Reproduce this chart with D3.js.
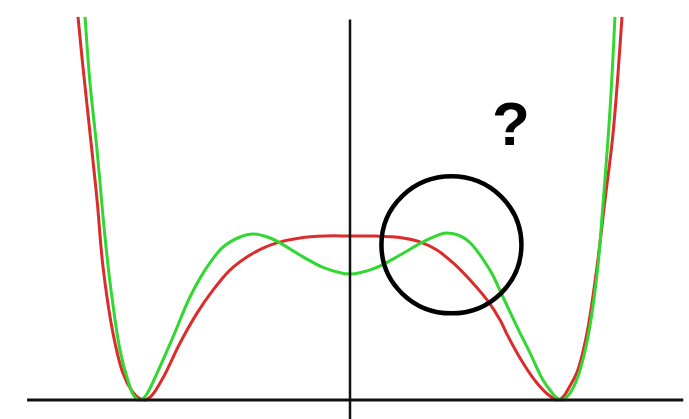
<!DOCTYPE html>
<html>
<head>
<meta charset="utf-8">
<script src="https://cdn.jsdelivr.net/npm/d3@7"></script>
<style>
  html, body { margin: 0; padding: 0; background: #fff; }
  svg { display: block; }
</style>
</head>
<body>
<main></main>
<script>
const svgWidth = 689,
  svgHeight = 419;

// curves: x position, height above the baseline
const redX = [-1.314, -1.290, -1.256, -1.222, -1.193, -1.145, -1.097, -1.058, -1.024, -0.990,
  -0.957, -0.903, -0.821, -0.739, -0.662, -0.580, -0.498, -0.420, -0.353, -0.242, -0.121, 0,
  0.121, 0.256, 0.338, 0.420, 0.498, 0.580, 0.662, 0.725, 0.758, 0.836, 0.903, 0.966, 1.0,
  1.029, 1.060, 1.097, 1.145, 1.193, 1.232, 1.271, 1.314];
const redY = [1.168, 1.015, 0.814, 0.610, 0.405, 0.204, 0.082, 0.032, 0.008, 0.0,
  0.014, 0.068, 0.174, 0.265, 0.335, 0.396, 0.436, 0.463, 0.479, 0.494, 0.500, 0.500,
  0.500, 0.494, 0.482, 0.457, 0.418, 0.366, 0.305, 0.244, 0.201, 0.113, 0.052, 0.012, 0.0,
  0.009, 0.040, 0.085, 0.204, 0.405, 0.610, 0.814, 1.168];

const greenX = [-1.280, -1.256, -1.222, -1.193, -1.159, -1.111, -1.072, -1.043, -1.014,
  -0.986, -0.932, -0.855, -0.773, -0.691, -0.614, -0.531, -0.469, -0.386, -0.338, -0.242, -0.121, 0,
  0.121, 0.242, 0.372, 0.469, 0.565, 0.676, 0.739, 0.807, 0.870, 0.932, 0.976, 1.0, 1.024,
  1.048, 1.072, 1.097, 1.145, 1.193, 1.222, 1.256, 1.280];
const greenY = [1.168, 0.966, 0.762, 0.558, 0.357, 0.152, 0.058, 0.012, 0.0,
  0.014, 0.082, 0.192, 0.314, 0.405, 0.466, 0.497, 0.506, 0.494, 0.479, 0.442, 0.402, 0.384,
  0.402, 0.442, 0.488, 0.509, 0.488, 0.396, 0.314, 0.223, 0.143, 0.061, 0.022, 0.006, 0.0,
  0.010, 0.030, 0.064, 0.177, 0.381, 0.595, 0.884, 1.168];

const axisXExtent = [-1.56, 1.61],
  axisYExtent = [-0.06, 1.16];

const circleCenter = [0.49, 0.473],
  questionPos = [0.778, 0.783];

const xScale = d3.scaleLinear().domain([-1.6, 1.6]).range([18.8, 681.2]),
  yScale = d3.scaleLinear().domain([0, 1.2]).range([400, 6.4]);

const svgContainer = d3
  .select("main")
  .append("svg")
  .attr("width", svgWidth)
  .attr("height", svgHeight);

const line = d3.line()
  .x(d => xScale(d[0]))
  .y(d => yScale(d[1]))
  .curve(d3.curveCatmullRom.alpha(0.5));

svgContainer.append("path")
  .datum(d3.zip(redX, redY))
  .attr("d", line)
  .attr("fill", "none")
  .attr("stroke", "#dc2b2b")
  .attr("stroke-width", 3);

svgContainer.append("path")
  .datum(d3.zip(greenX, greenY))
  .attr("d", line)
  .attr("fill", "none")
  .attr("stroke", "#30d830")
  .attr("stroke-width", 3);

// axes, plain lines without ticks
svgContainer.append("line")
  .attr("x1", xScale(axisXExtent[0]))
  .attr("x2", xScale(axisXExtent[1]))
  .attr("y1", yScale(0))
  .attr("y2", yScale(0))
  .attr("stroke", "#111")
  .attr("stroke-width", 3);

svgContainer.append("line")
  .attr("x1", xScale(0))
  .attr("x2", xScale(0))
  .attr("y1", yScale(axisYExtent[0]))
  .attr("y2", yScale(axisYExtent[1]))
  .attr("stroke", "#111")
  .attr("stroke-width", 2.5);

svgContainer.append("ellipse")
  .attr("cx", xScale(circleCenter[0]))
  .attr("cy", yScale(circleCenter[1]))
  .attr("rx", 70)
  .attr("ry", 68.5)
  .attr("fill", "none")
  .attr("stroke", "#000")
  .attr("stroke-width", 4.5);

svgContainer.append("text")
  .attr("x", xScale(questionPos[0]))
  .attr("y", yScale(questionPos[1]) + 2)
  .attr("text-anchor", "middle")
  .attr("font-family", "Liberation Sans, Arial, sans-serif")
  .attr("font-weight", "bold")
  .attr("font-size", 62)
  .attr("fill", "#000")
  .text("?");
</script>
</body>
</html>
